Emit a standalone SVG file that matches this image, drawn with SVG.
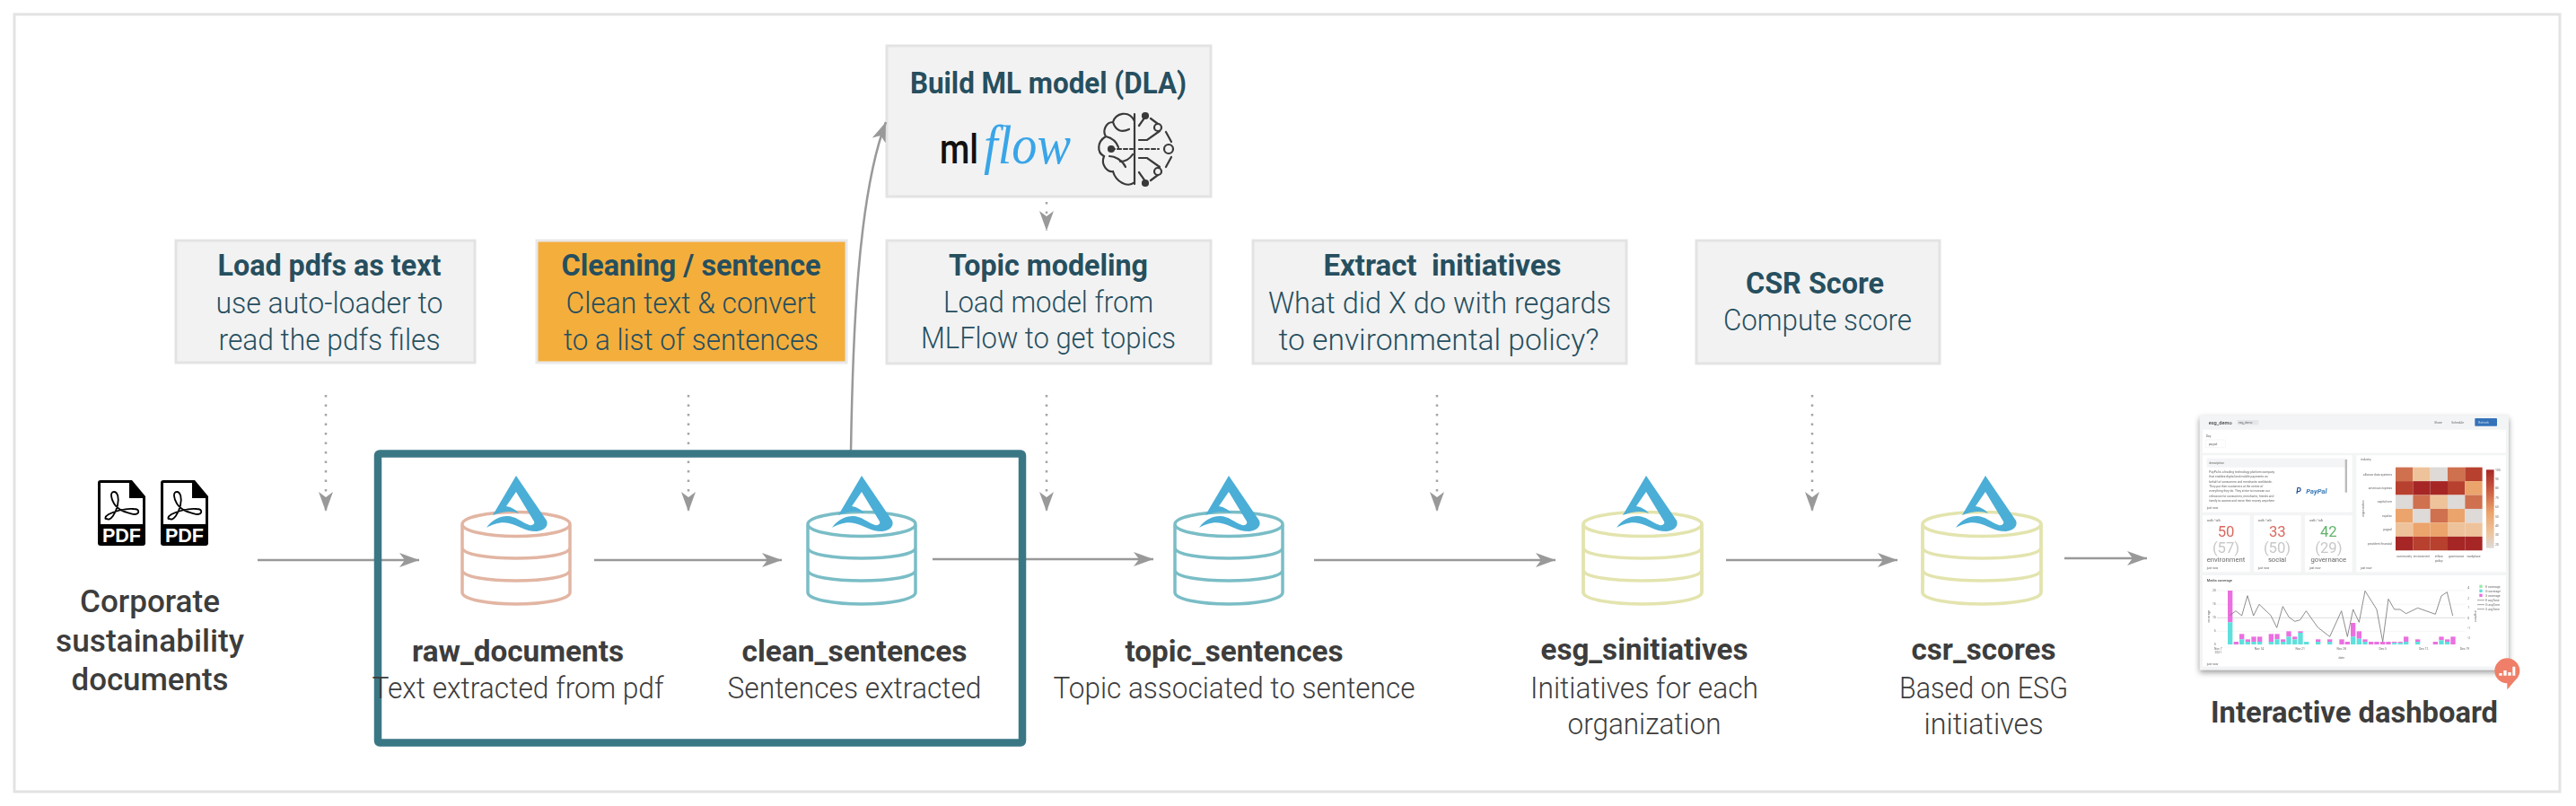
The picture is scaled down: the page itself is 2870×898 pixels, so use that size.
<svg xmlns="http://www.w3.org/2000/svg" xmlns:xlink="http://www.w3.org/1999/xlink" width="2870" height="898" viewBox="0 0 2870 898">
<style>
text{font-family:Roboto,"Liberation Sans",sans-serif}
.box{fill:#f2f2f2;stroke:#e3e3e3;stroke-width:3}
.t{font-size:33px;font-weight:700;fill:#264f5f;text-anchor:middle}
.s{font-size:33px;font-weight:300;fill:#264f5f;text-anchor:middle}
.n{font-size:33px;font-weight:700;fill:#3d3d3d;text-anchor:middle}
.d{font-size:33px;font-weight:300;fill:#3d3d3d;text-anchor:middle}
.c{font-size:35px;font-weight:500;fill:#3d3d3d;text-anchor:middle}
.flow{fill:none;stroke:#999;stroke-width:2.500;marker-end:url(#ah)}
.dot{fill:none;stroke:#a5a5a5;stroke-width:2.500;stroke-dasharray:2.500 8;marker-end:url(#ah)}
.cyl{fill:none;stroke-width:3.500}
.sm{font-size:10px;fill:#666}
.big{font-size:50px;text-anchor:middle}
.brain{fill:none;stroke:#3a3a3a;stroke-width:2.200;stroke-linecap:round}
</style>
<defs>
<marker id="ah" markerUnits="userSpaceOnUse" markerWidth="24" markerHeight="18" refX="22" refY="8" orient="auto"><path d="M0 0L22 8L0 16L6 8Z" fill="#999"/></marker>
<g id="cyl"><ellipse cx="0" cy="0" rx="60" ry="13.500"/><path d="M-60 1V76C-60 84-30 89 0 89S60 84 60 76V1M-60 26C-60 34-30 38 0 38S60 34 60 26M-60 51C-60 59-30 63 0 63S60 59 60 51"/></g>
<path id="delta" fill="#4baed6" d="M0 0L34 50C37 58 28 62 22 62C10 62 2 55-8 53C-17 51-26 54-33 58C-27 49-18 45-10 45C0 45 6 52 15 55C19 56 21 53 20 51L0 18L-11 34C-5 35 0 38 3 42C-3 39-14 39-26 44Z"/>
<g id="pdf"><path d="M0 3Q0 0 3 0H38L53 18V70Q53 73 50 73H3Q0 73 0 70Z" fill="#000"/><path d="M3 3H35V20H50V49H3Z" fill="#fff"/><path d="M10 43C14 46 20 37 22 28C24 20 22 13 18 13C13 13 15 21 18 26C23 34 32 36 40 38C47 38 47 32 40 32C30 31 18 35 12 38C7 41 8 44 10 43Z" fill="none" stroke="#000" stroke-width="1.800"/><text x="26.500" y="69" font-size="22" font-weight="700" fill="#fff" text-anchor="middle" textLength="43" lengthAdjust="spacingAndGlyphs" style="font-family:'Liberation Sans',sans-serif">PDF</text></g>
<filter id="blur" x="-5%" y="-5%" width="110%" height="110%"><feGaussianBlur stdDeviation="2.200"/></filter>
<filter id="sh" x="-10%" y="-10%" width="120%" height="120%"><feGaussianBlur stdDeviation="9"/></filter>
<linearGradient id="cb" x1="0" y1="0" x2="0" y2="1"><stop offset="0" stop-color="#a62727"/><stop offset=".25" stop-color="#c9593f"/><stop offset=".55" stop-color="#eba46c"/><stop offset=".8" stop-color="#eec39b"/><stop offset="1" stop-color="#dddad8"/></linearGradient>
</defs>
<rect width="2870" height="898" fill="#fff"/>
<rect id="frame" x="16" y="16" width="2836" height="866" fill="#fff" stroke="#e3e3e3" stroke-width="3"/>

<g id="load-pdfs"><rect class="box" x="196" y="268" width="333" height="136"/>
<text class="t" x="367" y="307" textLength="249" lengthAdjust="spacingAndGlyphs">Load pdfs as text</text>
<text class="s" x="367" y="349" textLength="253" lengthAdjust="spacingAndGlyphs">use auto-loader to</text>
<text class="s" x="367" y="390" textLength="247" lengthAdjust="spacingAndGlyphs">read the pdfs files</text></g>
<g id="cleaning"><rect x="598" y="268" width="345" height="136" fill="#f4ae3c" stroke="#e8e8e8" stroke-width="3"/>
<text class="t" x="770" y="307" textLength="289" lengthAdjust="spacingAndGlyphs">Cleaning / sentence</text>
<text class="s" x="770" y="349" textLength="279" lengthAdjust="spacingAndGlyphs">Clean text &amp; convert</text>
<text class="s" x="770" y="390" textLength="284" lengthAdjust="spacingAndGlyphs">to a list of sentences</text></g>
<g id="build-ml"><rect class="box" x="988" y="51" width="361" height="168"/>
<text class="t" x="1168" y="104" textLength="308" lengthAdjust="spacingAndGlyphs">Build ML model (DLA)</text>
<text x="1047" y="182" font-size="47" font-weight="500" fill="#111" textLength="43" lengthAdjust="spacingAndGlyphs">ml</text>
<text x="1096" y="182" font-size="62" font-style="italic" fill="#39a5e8" textLength="97" lengthAdjust="spacingAndGlyphs" style="font-family:'Liberation Serif',serif">flow</text>
<g class="brain"><path d="M1264 127V205M1264 135C1258 122 1242 126 1240 136C1232 136 1228 146 1232 152C1222 158 1222 170 1230 174C1226 184 1234 192 1240 191C1243 202 1256 210 1264 203M1240 136C1243 146 1250 148 1258 144M1232 152C1240 154 1244 158 1246 164M1248 180C1254 180 1258 178 1262 172M1236 174C1242 174 1250 178 1254 186"/>
<path d="M1269 166H1291M1238 166H1262" stroke-dasharray="4 3"/><circle cx="1238" cy="166" r="3" fill="#3a3a3a"/>
<path d="M1269 156H1278L1292 146M1269 176H1278L1292 186M1269 140L1276 130M1269 192L1276 202M1282 132L1290 138M1299 147L1305 158M1305 175L1299 186M1282 201L1290 195" /><circle cx="1276" cy="129" r="3" fill="#3a3a3a"/><circle cx="1276" cy="204" r="3" fill="#3a3a3a"/><circle cx="1290" cy="142" r="4" fill="#f2f2f2"/><circle cx="1302" cy="166" r="5" fill="#f2f2f2"/><circle cx="1290" cy="191" r="4" fill="#f2f2f2"/></g></g>
<g id="topic-modeling"><rect class="box" x="988" y="268" width="361" height="137"/>
<text class="t" x="1168" y="307" textLength="222" lengthAdjust="spacingAndGlyphs">Topic modeling</text>
<text class="s" x="1168" y="348" textLength="234" lengthAdjust="spacingAndGlyphs">Load model from</text>
<text class="s" x="1168" y="388" textLength="284" lengthAdjust="spacingAndGlyphs">MLFlow to get topics</text></g>
<g id="extract"><rect class="box" x="1396" y="268" width="416" height="137"/>
<text class="t" x="1607" y="307" textLength="265" lengthAdjust="spacingAndGlyphs" xml:space="preserve">Extract  initiatives</text>
<text class="s" x="1604" y="349" textLength="382" lengthAdjust="spacingAndGlyphs">What did X do with regards</text>
<text class="s" x="1603" y="390" textLength="357" lengthAdjust="spacingAndGlyphs">to environmental policy?</text></g>
<g id="csr"><rect class="box" x="1890" y="268" width="271" height="137"/>
<text class="t" x="2022" y="327" textLength="154" lengthAdjust="spacingAndGlyphs">CSR Score</text>
<text class="s" x="2025" y="368" textLength="210" lengthAdjust="spacingAndGlyphs">Compute score</text></g>

<g id="connectors">
<path class="flow" d="M287 624H467"/><path class="flow" d="M662 624H871"/><path class="flow" d="M1039 623H1285"/><path class="flow" d="M1464 624H1733"/><path class="flow" d="M1923 624H2114"/><path class="flow" d="M2300 622H2392"/>
<path class="flow" d="M948 503C950 380 955 220 987 136"/>
<path class="dot" d="M363 440V570"/><path class="dot" d="M767 440V570"/><path class="dot" d="M1166 440V570"/><path class="dot" d="M1601 440V570"/><path class="dot" d="M2019 440V570"/><path class="dot" d="M1166 225V257"/>
</g>
<rect id="highlight" x="421" y="505.500" width="718" height="322" fill="none" stroke="#3a7785" stroke-width="8.500" rx="2"/>

<g id="pdfs"><use xlink:href="#pdf" href="#pdf" x="109" y="535"/><use xlink:href="#pdf" href="#pdf" x="179" y="535"/>
<text class="c" x="167" y="682" textLength="156" lengthAdjust="spacingAndGlyphs">Corporate</text>
<text class="c" x="167" y="726" textLength="210" lengthAdjust="spacingAndGlyphs">sustainability</text>
<text class="c" x="167" y="769" textLength="175" lengthAdjust="spacingAndGlyphs">documents</text></g>
<g id="raw_documents"><use xlink:href="#cyl" href="#cyl" class="cyl" stroke="#e2b5a3" transform="translate(575 584)"/><use xlink:href="#delta" href="#delta" transform="translate(575 530)"/>
<text class="n" x="577" y="737" textLength="236" lengthAdjust="spacingAndGlyphs">raw_documents</text>
<text class="d" x="577" y="778" textLength="325" lengthAdjust="spacingAndGlyphs">Text extracted from pdf</text></g>
<g id="clean_sentences"><use xlink:href="#cyl" href="#cyl" class="cyl" stroke="#7abdc6" transform="translate(960 584)"/><use xlink:href="#delta" href="#delta" transform="translate(960 530)"/>
<text class="n" x="952" y="737" textLength="251" lengthAdjust="spacingAndGlyphs">clean_sentences</text>
<text class="d" x="952" y="778" textLength="283" lengthAdjust="spacingAndGlyphs">Sentences extracted</text></g>
<g id="topic_sentences"><use xlink:href="#cyl" href="#cyl" class="cyl" stroke="#7abdc6" transform="translate(1369 584)"/><use xlink:href="#delta" href="#delta" transform="translate(1369 530)"/>
<text class="n" x="1375" y="737" textLength="243" lengthAdjust="spacingAndGlyphs">topic_sentences</text>
<text class="d" x="1375" y="778" textLength="403" lengthAdjust="spacingAndGlyphs">Topic associated to sentence</text></g>
<g id="esg_sinitiatives"><use xlink:href="#cyl" href="#cyl" class="cyl" stroke="#e3e4ae" transform="translate(1830 584) scale(1.100 1)"/><use xlink:href="#delta" href="#delta" transform="translate(1834 530)"/>
<text class="n" x="1832" y="735" textLength="231" lengthAdjust="spacingAndGlyphs">esg_sinitiatives</text>
<text class="d" x="1832" y="778" textLength="254" lengthAdjust="spacingAndGlyphs">Initiatives for each</text>
<text class="d" x="1832" y="818" textLength="171" lengthAdjust="spacingAndGlyphs">organization</text></g>
<g id="csr_scores"><use xlink:href="#cyl" href="#cyl" class="cyl" stroke="#e3e4ae" transform="translate(2208 584) scale(1.100 1)"/><use xlink:href="#delta" href="#delta" transform="translate(2212 530)"/>
<text class="n" x="2210" y="735" textLength="161" lengthAdjust="spacingAndGlyphs">csr_scores</text>
<text class="d" x="2210" y="778" textLength="188" lengthAdjust="spacingAndGlyphs">Based on ESG</text>
<text class="d" x="2210" y="818" textLength="133" lengthAdjust="spacingAndGlyphs">initiatives</text></g>

<g id="dashboard">
<g transform="translate(2420 440) scale(.33333)">
<rect x="92" y="78" width="1033" height="850" fill="#555" opacity=".6" filter="url(#sh)"/>
<g filter="url(#blur)">
<rect x="92" y="68" width="1033" height="852" fill="#f3f4f5"/>
<rect x="102" y="116" width="1014" height="78" fill="#fff"/>
<rect x="102" y="202" width="500" height="190" fill="#fff"/>
<rect x="616" y="202" width="500" height="390" fill="#fff"/>
<rect x="102" y="403" width="158" height="189" fill="#fff"/><rect x="273" y="403" width="158" height="189" fill="#fff"/><rect x="444" y="403" width="158" height="189" fill="#fff"/>
<rect x="102" y="603" width="1014" height="305" fill="#fff"/>
<text x="122" y="98" font-size="17" font-weight="500" fill="#444">esg_demo</text>
<rect x="217" y="84" width="72" height="16" fill="#e4e7ea"/><text x="222" y="96" class="sm">esg_demo</text>
<text x="877" y="96" class="sm">Share</text><text x="934" y="96" class="sm">Schedule</text>
<rect x="1012" y="78" width="74" height="26" rx="2" fill="#3573b9"/><text x="1024" y="96" class="sm" style="fill:#cde">Refresh</text>
<text x="113" y="141" class="sm">Day</text><rect x="113" y="150" width="65" height="26" fill="#fff" stroke="#e8e8e8"/><text x="122" y="167" class="sm">paypal</text>
<rect x="116" y="212" width="470" height="30" fill="#f3f4f5"/><text x="124" y="231" class="sm">description</text>
<rect x="578" y="216" width="7" height="110" fill="#bbb"/>
<g class="sm"><text x="124" y="260" class="sm">PayPal is a leading technology platform company</text><text x="124" y="276" class="sm">that enables digital and mobile payments on</text><text x="124" y="293" class="sm">behalf of consumers and merchants worldwide.</text><text x="124" y="309" class="sm">They put their customers at the center of</text><text x="124" y="325" class="sm">everything they do. They strive to increase our</text><text x="124" y="342" class="sm">relevance for consumers, merchants, friends and</text><text x="124" y="358" class="sm">family to access and move their money anywhere</text></g>
<text x="415" y="330" font-size="26" font-weight="700" font-style="italic" fill="#1d4f91">P</text><text x="448" y="330" font-size="23" font-weight="700" font-style="italic" fill="#3a7ab8">PayPal</text>
<text x="630" y="220" class="sm">industry</text>
<g class="sm"><text x="116" y="422" class="sm">walk / talk</text><text x="287" y="422" class="sm">walk / talk</text><text x="459" y="422" class="sm">walk / talk</text>
<text x="116" y="380" class="sm">just now</text><text x="116" y="581" class="sm">just now</text><text x="287" y="581" class="sm">just now</text><text x="459" y="581" class="sm">just now</text><text x="630" y="581" class="sm">just now</text><text x="116" y="903" class="sm">just now</text></g>
<text class="big" x="180" y="473" fill="#d9695f">50</text><text class="big" x="352" y="473" fill="#d9695f">33</text><text class="big" x="523" y="473" fill="#62b46a">42</text>
<text class="big" x="180" y="528" fill="#c8c8c8">(57)</text><text class="big" x="351" y="528" fill="#c8c8c8">(50)</text><text class="big" x="523" y="528" fill="#c8c8c8">(29)</text>
<g font-size="23" fill="#666" text-anchor="middle"><text x="180" y="557">environment</text><text x="351" y="557">social</text><text x="523" y="557">governance</text></g>
<g id="heat">
<rect x="747" y="242" width="58" height="46.300" fill="#cf7050"/><rect x="805" y="242" width="58" height="46.300" fill="#eec39b"/><rect x="863" y="242" width="58" height="46.300" fill="#dddad8"/><rect x="921" y="242" width="58" height="46.300" fill="#cf7050"/><rect x="979" y="242" width="58" height="46.300" fill="#b8402f"/>
<rect x="747" y="288.300" width="58" height="46.300" fill="#b8402f"/><rect x="805" y="288.300" width="58" height="46.300" fill="#a62727"/><rect x="863" y="288.300" width="58" height="46.300" fill="#a62727"/><rect x="921" y="288.300" width="58" height="46.300" fill="#b8402f"/><rect x="979" y="288.300" width="58" height="46.300" fill="#eba46c"/>
<rect x="747" y="334.600" width="58" height="46.300" fill="#dddad8"/><rect x="805" y="334.600" width="58" height="46.300" fill="#cf7050"/><rect x="863" y="334.600" width="58" height="46.300" fill="#eec39b"/><rect x="921" y="334.600" width="58" height="46.300" fill="#dddad8"/><rect x="979" y="334.600" width="58" height="46.300" fill="#cf7050"/>
<rect x="747" y="380.900" width="58" height="46.300" fill="#eba46c"/><rect x="805" y="380.900" width="58" height="46.300" fill="#dddad8"/><rect x="863" y="380.900" width="58" height="46.300" fill="#cf7050"/><rect x="921" y="380.900" width="58" height="46.300" fill="#eba46c"/><rect x="979" y="380.900" width="58" height="46.300" fill="#dddad8"/>
<rect x="747" y="427.200" width="58" height="46.300" fill="#eec39b"/><rect x="805" y="427.200" width="58" height="46.300" fill="#eba46c"/><rect x="863" y="427.200" width="58" height="46.300" fill="#eba46c"/><rect x="921" y="427.200" width="58" height="46.300" fill="#eec39b"/><rect x="979" y="427.200" width="58" height="46.300" fill="#eec39b"/>
<rect x="747" y="473.500" width="58" height="46.300" fill="#a62727"/><rect x="805" y="473.500" width="58" height="46.300" fill="#b8402f"/><rect x="863" y="473.500" width="58" height="46.300" fill="#b8402f"/><rect x="921" y="473.500" width="58" height="46.300" fill="#a62727"/><rect x="979" y="473.500" width="58" height="46.300" fill="#a62727"/>
</g>
<rect x="1050" y="250" width="26" height="262" fill="url(#cb)"/>
<g><text x="1080" y="254" class="sm">100</text><text x="1080" y="285" class="sm">90</text><text x="1080" y="316" class="sm">80</text><text x="1080" y="347" class="sm">70</text><text x="1080" y="378" class="sm">60</text><text x="1080" y="410" class="sm">50</text><text x="1080" y="441" class="sm">40</text><text x="1080" y="472" class="sm">30</text><text x="1080" y="503" class="sm">20</text></g>
<g><text x="735" y="269" class="sm" style="text-anchor:end">alliance data systems</text><text x="735" y="315" class="sm" style="text-anchor:end">american express</text><text x="735" y="361" class="sm" style="text-anchor:end">capital one</text><text x="735" y="408" class="sm" style="text-anchor:end">equifax</text><text x="735" y="454" class="sm" style="text-anchor:end">paypal</text><text x="735" y="500" class="sm" style="text-anchor:end">provident financial</text></g>
<text transform="translate(642 380) rotate(-90)" class="sm" style="text-anchor:middle">organization</text>
<g><text x="776" y="542" class="sm" style="text-anchor:middle">community</text><text x="834" y="542" class="sm" style="text-anchor:middle">environment</text><text x="892" y="542" class="sm" style="text-anchor:middle">ethics</text><text x="950" y="542" class="sm" style="text-anchor:middle">governance</text><text x="1008" y="542" class="sm" style="text-anchor:middle">workplace</text><text x="892" y="559" class="sm" style="text-anchor:middle">policy</text></g>
<text x="116" y="623" font-size="12" font-weight="500" fill="#555">Media coverage</text>
<path d="M150 654H980M150 700H980M150 790H980" stroke="#f0f0f0" stroke-width="2"/><path d="M150 745H980" stroke="#ddd" stroke-width="3"/>
<g><text x="146" y="657" class="sm" style="text-anchor:end">20</text><text x="146" y="703" class="sm" style="text-anchor:end">15</text><text x="146" y="748" class="sm" style="text-anchor:end">10</text><text x="146" y="793" class="sm" style="text-anchor:end">5</text><text x="146" y="838" class="sm" style="text-anchor:end">0</text></g>
<text transform="translate(127 740) rotate(-90)" class="sm" style="text-anchor:middle">coverage</text>
<g><text x="988" y="649" class="sm">4</text><text x="988" y="683" class="sm">2</text><text x="988" y="715" class="sm">1</text><text x="988" y="749" class="sm">0</text><text x="988" y="783" class="sm">-1</text><text x="988" y="817" class="sm">-2</text></g>
<text transform="translate(1012 740) rotate(90)" class="sm" style="text-anchor:middle">avg tone</text>
<g fill="#ea6fe0">
<rect x="186" y="654" width="16" height="106"/><rect x="206" y="825" width="16" height="9"/><rect x="225" y="799" width="16" height="18"/><rect x="245" y="817" width="16" height="8"/><rect x="265" y="808" width="16" height="17"/><rect x="285" y="808" width="16" height="17"/><rect x="323" y="799" width="16" height="26"/><rect x="343" y="799" width="16" height="18"/><rect x="363" y="817" width="16" height="8"/><rect x="382" y="790" width="16" height="18"/><rect x="402" y="808" width="16" height="9"/><rect x="421" y="790" width="16" height="5"/><rect x="480" y="817" width="16" height="8"/><rect x="519" y="817" width="16" height="8"/><rect x="559" y="817" width="16" height="17"/><rect x="578" y="825" width="16" height="9"/><rect x="597" y="762" width="16" height="46"/><rect x="617" y="790" width="16" height="25"/><rect x="637" y="817" width="16" height="8"/><rect x="657" y="825" width="16" height="9"/><rect x="676" y="825" width="16" height="9"/><rect x="696" y="825" width="16" height="9"/><rect x="715" y="825" width="16" height="9"/><rect x="735" y="825" width="16" height="4"/><rect x="755" y="825" width="16" height="4"/><rect x="774" y="808" width="16" height="17"/><rect x="813" y="817" width="16" height="8"/><rect x="872" y="825" width="16" height="9"/><rect x="892" y="808" width="16" height="12"/><rect x="912" y="817" width="16" height="8"/><rect x="931" y="808" width="16" height="26"/>
</g>
<g fill="#5fe0dc">
<rect x="186" y="760" width="16" height="74"/><rect x="225" y="817" width="16" height="17"/><rect x="245" y="825" width="16" height="9"/><rect x="265" y="825" width="16" height="9"/><rect x="285" y="825" width="16" height="9"/><rect x="323" y="825" width="16" height="9"/><rect x="343" y="817" width="16" height="17"/><rect x="363" y="825" width="16" height="9"/><rect x="382" y="808" width="16" height="26"/><rect x="402" y="817" width="16" height="17"/><rect x="421" y="795" width="16" height="39"/><rect x="441" y="825" width="16" height="9"/><rect x="480" y="825" width="16" height="9"/><rect x="519" y="825" width="16" height="9"/><rect x="597" y="808" width="16" height="26"/><rect x="617" y="815" width="16" height="19"/><rect x="637" y="825" width="16" height="9"/><rect x="735" y="829" width="16" height="5"/><rect x="755" y="829" width="16" height="5"/><rect x="774" y="825" width="16" height="9"/><rect x="813" y="825" width="16" height="9"/><rect x="892" y="820" width="16" height="14"/><rect x="912" y="825" width="16" height="9"/>
</g>
<polyline fill="none" stroke="#777" stroke-width="2.500" points="193,737 213,722 233,738 252,671 272,738 291,700 330,737 350,778 370,707 390,742 410,757 428,752 448,722 487,777 527,808 566,722 586,808 605,717 625,760 645,655 684,717 704,825 723,682 743,717 762,717 782,731 821,712 880,733 900,672 919,659 938,738"/>
<g><text x="154" y="851" class="sm" style="text-anchor:middle">Nov 7</text><text x="154" y="863" class="sm" style="text-anchor:middle">2021</text><text x="291" y="851" class="sm" style="text-anchor:middle">Nov 14</text><text x="428" y="851" class="sm" style="text-anchor:middle">Nov 21</text><text x="566" y="851" class="sm" style="text-anchor:middle">Nov 28</text><text x="704" y="851" class="sm" style="text-anchor:middle">Dec 5</text><text x="841" y="851" class="sm" style="text-anchor:middle">Dec 12</text><text x="978" y="851" class="sm" style="text-anchor:middle">Dec 19</text><text x="566" y="882" class="sm" style="text-anchor:middle">date</text></g>
<rect x="1027" y="635" width="10" height="10" fill="#9be8a8"/><rect x="1027" y="650" width="10" height="10" fill="#5fe0dc"/><rect x="1027" y="665" width="10" height="10" fill="#ea6fe0"/>
<path d="M1020 686H1044M1020 701H1044M1020 716H1044" stroke="#777" stroke-width="2"/>
<g><text x="1048" y="644" class="sm">E coverage</text><text x="1048" y="659" class="sm">G coverage</text><text x="1048" y="674" class="sm">S coverage</text><text x="1048" y="690" class="sm">E avgTone</text><text x="1048" y="705" class="sm">G avgTone</text><text x="1048" y="720" class="sm">S avgTone</text></g>
</g>
<g id="badge"><path d="M1120 880A42 42 0 0 1 1146 955L1120 985V964A42 42 0 0 1 1120 880Z" fill="#ef7f68"/><path d="M1093 930h10v8h-10zM1108 921h10v17h-10zM1123 927h10v11h-10zM1138 908h9v30h-9z" fill="#fff"/></g>
</g>
<text x="2623" y="805" font-size="33" font-weight="700" fill="#3d3d3d" text-anchor="middle" textLength="320" lengthAdjust="spacingAndGlyphs">Interactive dashboard</text>
</g>
</svg>
